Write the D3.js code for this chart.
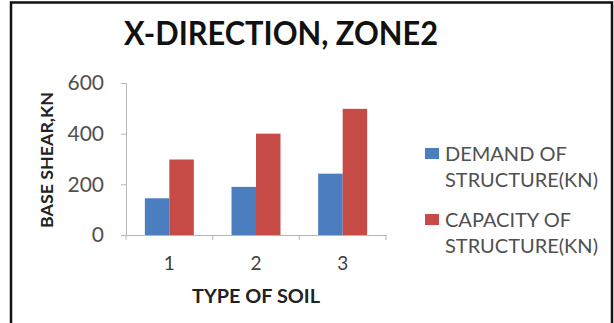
<!DOCTYPE html>
<html>
<head>
<meta charset="utf-8">
<script src="https://cdn.jsdelivr.net/npm/d3@7"></script>
<style>
  html, body { margin: 0; padding: 0; background: #fff; }
  svg { display: block; }
</style>
</head>
<body>
<script>
// Base shear per soil type, X-direction, zone 2
const soilTypes = ["1", "2", "3"];
const demandValues = [145, 190, 242];
const capacityValues = [298, 400, 498];
const seriesNames = ["DEMAND OF STRUCTURE(KN)", "CAPACITY OF STRUCTURE(KN)"];
const seriesColors = ["#4a7ebf", "#c64b46"];
const yTicks = [0, 200, 400, 600];

const W = 614, H = 323;
const FONT = "Lato, 'Open Sans', sans-serif";
const svg = d3.select("body").append("svg").attr("width", W).attr("height", H);

// outer frame
svg.append("path")
  .attr("d", `M11,${H + 2} V2.5 H612 V${H + 2}`)
  .attr("fill", "none").attr("stroke", "#111").attr("stroke-width", 2.5);

const plot = { left: 126, right: 386, top: 83, bottom: 235 };

const x = d3.scaleBand().domain(soilTypes).range([plot.left, plot.right]);
const y = d3.scaleLinear().domain([0, 600]).range([plot.bottom, plot.top]);
const inner = d3.scaleBand().domain([0, 1]).range([0, x.bandwidth()]).paddingOuter(0.77);

// title
svg.append("text")
  .attr("x", 281).attr("y", 45)
  .attr("text-anchor", "middle")
  .attr("font-family", FONT)
  .attr("font-weight", "bold")
  .attr("font-size", 33)
  .attr("textLength", 314)
  .attr("lengthAdjust", "spacingAndGlyphs")
  .attr("fill", "#111")
  .text("X-DIRECTION, ZONE2");

// bars
[demandValues, capacityValues].forEach((vals, si) => {
  svg.append("g").selectAll("rect")
    .data(vals)
    .join("rect")
    .attr("x", (d, i) => x(soilTypes[i]) + inner(si))
    .attr("width", inner.bandwidth())
    .attr("y", d => y(d))
    .attr("height", d => y(0) - y(d))
    .attr("fill", seriesColors[si]);
});

// y axis
const yAxis = svg.append("g")
  .attr("transform", `translate(${plot.left},0)`)
  .call(d3.axisLeft(y).tickValues(yTicks).tickSize(5).tickPadding(17));
yAxis.select(".domain").attr("stroke", "#b5b5b5");
yAxis.selectAll(".tick line").attr("stroke", "#b5b5b5");
yAxis.selectAll(".tick text")
  .attr("font-family", FONT)
  .attr("font-size", 21)
  .attr("fill", "#505050");

// x axis, ticks at category boundaries
const xAxis = svg.append("g")
  .attr("transform", `translate(0,${plot.bottom})`)
  .call(d3.axisBottom(x).tickSize(0).tickPadding(22));
xAxis.select(".domain").attr("stroke", "#b5b5b5");
xAxis.selectAll(".tick text")
  .attr("font-family", FONT)
  .attr("font-size", 19)
  .attr("fill", "#404040");
const boundaries = soilTypes.map(s => x(s)).concat([x(soilTypes[soilTypes.length - 1]) + x.bandwidth()]);
svg.append("g").selectAll("line")
  .data(boundaries)
  .join("line")
  .attr("x1", d => d).attr("x2", d => d)
  .attr("y1", plot.bottom).attr("y2", plot.bottom + 5)
  .attr("stroke", "#b5b5b5");

// axis titles
svg.append("text")
  .attr("transform", `translate(53,160) rotate(-90)`)
  .attr("text-anchor", "middle")
  .attr("font-family", FONT)
  .attr("font-weight", "bold")
  .attr("font-size", 17)
  .attr("textLength", 136)
  .attr("lengthAdjust", "spacingAndGlyphs")
  .attr("fill", "#222")
  .text("BASE SHEAR,KN");

svg.append("text")
  .attr("x", 256).attr("y", 303)
  .attr("text-anchor", "middle")
  .attr("font-family", FONT)
  .attr("font-weight", "bold")
  .attr("font-size", 18)
  .attr("textLength", 128)
  .attr("lengthAdjust", "spacingAndGlyphs")
  .attr("fill", "#222")
  .text("TYPE OF SOIL");

// legend
const legendRows = [148, 214];
seriesNames.forEach((name, i) => {
  const g = svg.append("g").attr("transform", `translate(425,${legendRows[i]})`);
  g.append("rect").attr("width", 14).attr("height", 11).attr("fill", seriesColors[i]);
  const words = name.split(" ");
  const lines = [words.slice(0, 2).join(" "), words.slice(2).join(" ")];
  g.append("text")
    .attr("font-family", FONT)
    .attr("font-size", 20)
    .attr("fill", "#505050")
    .selectAll("tspan")
    .data(lines)
    .join("tspan")
    .attr("x", 20)
    .attr("y", (d, k) => 13 + k * 26)
    .text(d => d);
});
</script>
</body>
</html>
